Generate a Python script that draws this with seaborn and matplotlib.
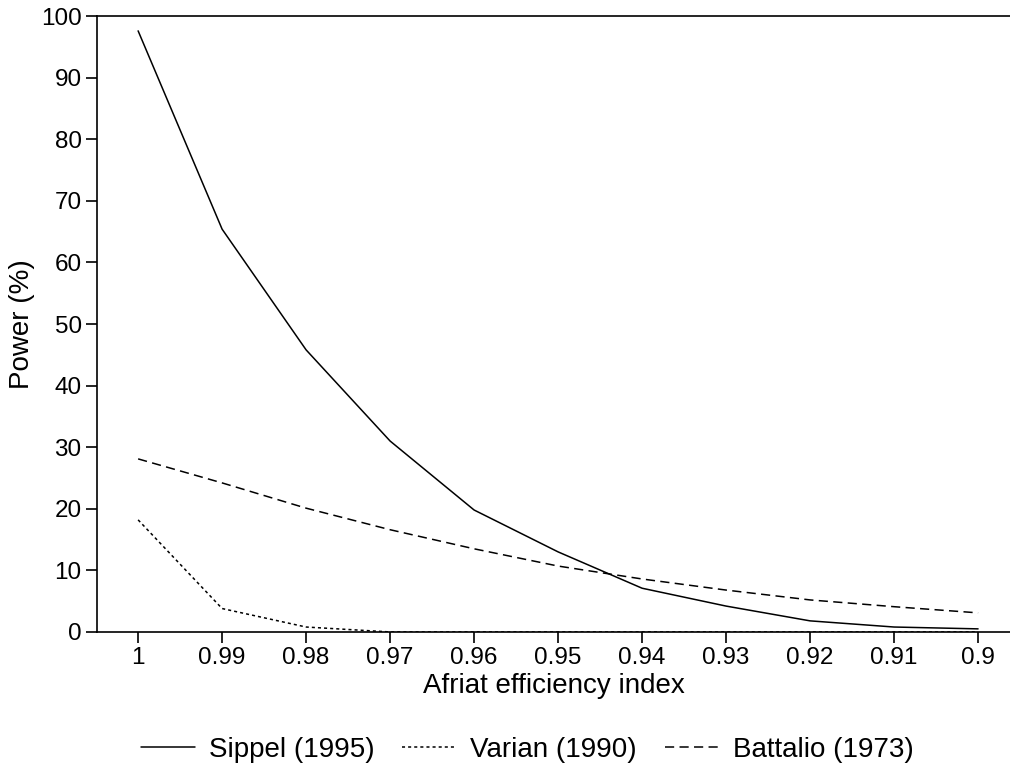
import pandas as pd
import matplotlib.pyplot as plt
import seaborn as sns

# Afriat efficiency index levels (categorical x axis)
aei = ["1", "0.99", "0.98", "0.97", "0.96", "0.95", "0.94", "0.93", "0.92", "0.91", "0.9"]

# Power (%)
sippel = [97.6, 65.4, 45.8, 31.0, 19.8, 13.0, 7.1, 4.2, 1.8, 0.8, 0.5]
varian = [18.2, 3.8, 0.8, 0.0, 0.0, 0.0, 0.0, 0.0, 0.0, 0.0, 0.0]
battalio = [28.1, 24.2, 20.1, 16.6, 13.5, 10.7, 8.6, 6.8, 5.2, 4.1, 3.1]

series = {"Sippel (1995)": sippel, "Varian (1990)": varian, "Battalio (1973)": battalio}

rows = []
for name, vals in series.items():
    for i, v in enumerate(vals):
        rows.append({"idx": i, "Power": v, "Series": name})
df = pd.DataFrame(rows)

sns.set_style("ticks")
plt.rcParams["font.family"] = ["Liberation Sans", "DejaVu Sans"]
plt.rcParams["text.color"] = "black"
plt.rcParams["axes.labelcolor"] = "black"

fig, ax = plt.subplots(figsize=(10.1, 7.66), dpi=100)
fig.subplots_adjust(left=0.096, right=1.0, top=0.979, bottom=0.175)

dashes = {"Sippel (1995)": "", "Varian (1990)": (2, 2), "Battalio (1973)": (6, 3.5)}
sns.lineplot(data=df, x="idx", y="Power", style="Series", dashes=dashes,
             color="black", linewidth=1.1, ax=ax, legend=True)

ax.set_xlim(-0.49, 10.38)
ax.set_ylim(0, 100)
ax.set_xticks(range(len(aei)))
ax.set_xticklabels(aei)
ax.set_yticks(range(0, 101, 10))
ax.tick_params(direction="out", length=8, width=1.2, labelsize=17.5, colors="black", pad=3)
ax.set_xlabel("Afriat efficiency index", fontsize=20, labelpad=3)
ax.set_ylabel("Power (%)", fontsize=20, labelpad=4)

for s in ["left", "bottom", "top"]:
    ax.spines[s].set_linewidth(1.2)
    ax.spines[s].set_color("black")
ax.spines["right"].set_visible(False)

handles, labels = ax.get_legend_handles_labels()
ax.get_legend().remove()
fig.legend(handles, labels, loc="center", bbox_to_anchor=(0.522, 0.021),
           ncol=3, frameon=False, fontsize=20, handlelength=1.95, columnspacing=1.0,
           handletextpad=0.5, borderpad=0.1)

plt.savefig("out.png", dpi=100)
